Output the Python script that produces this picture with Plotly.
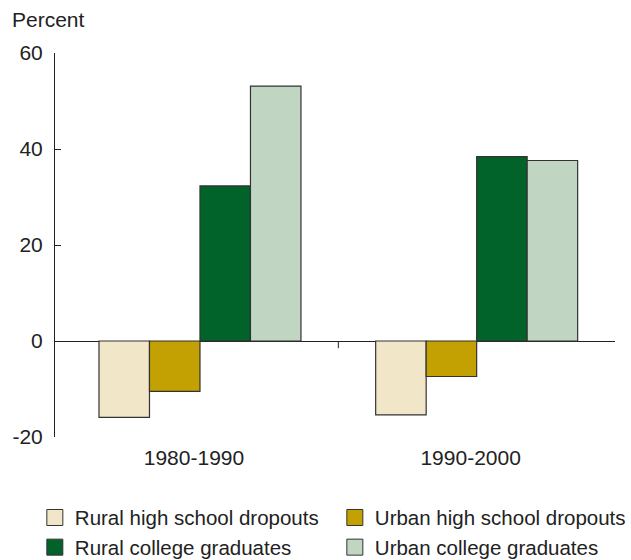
import plotly.graph_objects as go

periods = ["1980-1990", "1990-2000"]
series_names = ["Rural high school dropouts", "Urban high school dropouts",
                "Rural college graduates", "Urban college graduates"]
rural_hs = [-15.9, -15.4]
urban_hs = [-10.5, -7.4]
rural_col = [32.3, 38.4]
urban_col = [53.1, 37.6]
y_ticks = [-20, 0, 20, 40, 60]
y_tick_text = ["-20", "0", "20", "40", "60"]

colors = ["#F2E6C9", "#C4A102", "#01632A", "#C1D5C3"]
values = [rural_hs, urban_hs, rural_col, urban_col]

FONT = "Liberation Sans, Arial, sans-serif"
FS = 21
fig = go.Figure()
for name, vals, col in zip(series_names, values, colors):
    fig.add_trace(go.Bar(
        x=[0, 1], y=vals, name=name, legendgroup=name, showlegend=False,
        marker=dict(color=col, line=dict(color="#333333", width=1.2)),
    ))
# legend entries with larger square swatches
for name, col in zip(series_names, colors):
    fig.add_trace(go.Scatter(
        x=[None], y=[None], mode="markers", name=name, legendgroup=name,
        marker=dict(symbol="square", size=16, color=col,
                    line=dict(color="#333333", width=1)),
    ))

fig.update_layout(
    width=631, height=560,
    margin=dict(l=55, r=16, t=53, b=123, autoexpand=False),
    paper_bgcolor="white", plot_bgcolor="white",
    barmode="group", bargap=0.27, bargroupgap=0,
    font=dict(family=FONT, size=FS, color="#222222"),
    showlegend=True,
    legend=dict(orientation="h", xref="paper", yref="paper",
                x=-0.036, xanchor="left", y=-0.158, yanchor="top",
                entrywidth=255, entrywidthmode="pixels",
                font=dict(size=20.5, color="#222222"), traceorder="normal",
                itemwidth=30, tracegroupgap=0, bgcolor="rgba(0,0,0,0)"),
    xaxis=dict(
        range=[-0.524, 1.5], tickvals=[0, 1], ticktext=periods,
        showline=False, showgrid=False, zeroline=False, ticks="",
        ticklabelstandoff=6, ticklabelshift=-6, fixedrange=True,
    ),
    yaxis=dict(
        range=[-20, 60], tickvals=y_ticks, ticktext=y_tick_text,
        showline=True, linecolor="#222222",
        linewidth=1, ticks="inside", ticklen=6, tickcolor="#222222",
        showgrid=False, zeroline=True, zerolinecolor="#222222", zerolinewidth=1,
        ticklabelstandoff=7, fixedrange=True,
    ),
    annotations=[dict(text="Percent", xref="paper", yref="paper", x=-0.08, y=1.0,
                      xanchor="left", yanchor="bottom", yshift=20, showarrow=False,
                      font=dict(size=FS, color="#222222"))],
    shapes=[dict(type="line", xref="x", yref="y", x0=0.5, x1=0.5, y0=0, y1=-1.5,
                 line=dict(color="#222222", width=1))],
)

fig.write_html("out.html", config={"displayModeBar": False},
               post_script="document.body.style.margin='0';")
